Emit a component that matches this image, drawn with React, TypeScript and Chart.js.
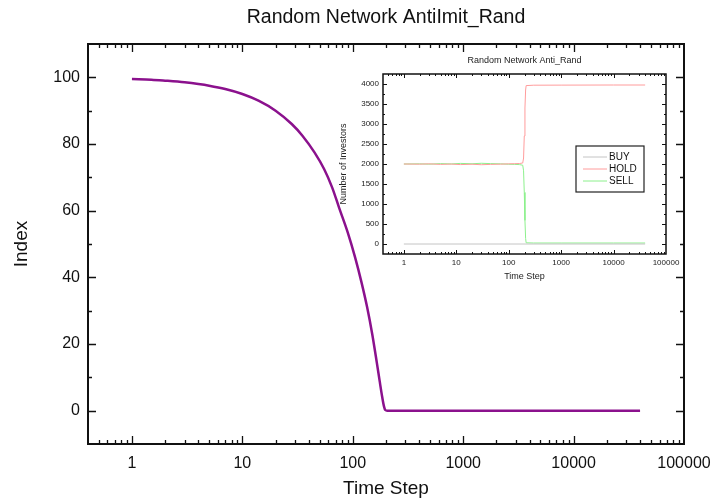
import React, { useEffect, useRef } from 'react';
import { Chart, registerables } from 'chart.js';

Chart.register(...registerables);

const FONT = "'Liberation Sans', Arial, Helvetica, sans-serif";
const INK = '#111111';

// ---------- main chart data ----------
const mainTitle = 'Random Network AntiImit_Rand';
const mainXTitle = 'Time Step';
const mainYTitle = 'Index';
const mainTimes = [1, 1.5, 2, 3, 4, 5, 7, 10, 14, 20, 28, 35, 45, 55, 65, 75, 90, 105, 120, 135, 150, 165, 175, 185, 192, 197, 205, 300, 1000, 10000, 40000];
const mainIndex = [99.5, 99.3, 99.0, 98.5, 98.0, 97.5, 96.5, 95.0, 93.0, 90.0, 86.0, 82.5, 77.5, 72.5, 67.0, 61.0, 53.5, 46.0, 38.5, 31.0, 23.0, 14.5, 9.0, 4.0, 1.2, 0.2, 0, 0, 0, 0, 0];
const mainXTicks = [1, 10, 100, 1000, 10000, 100000];
const mainYTicks = [0, 20, 40, 60, 80, 100];
const mainYMinor = [10, 30, 50, 70, 90];

// ---------- inset chart data ----------
const insetTitle = 'Random Network Anti_Rand';
const insetXTitle = 'Time Step';
const insetYTitle = 'Number of Investors';
const seriesLabels = ['BUY', 'HOLD', 'SELL'];
const buyTimes = [1, 40000];
const buyValues = [0, 0];
const insetTimes = [1, 2, 3, 5, 8, 12, 20, 30, 45, 70, 100, 130, 160, 185, 192, 198, 204, 210, 215, 300, 1000, 10000, 40000];
const holdValues = [2000, 1996, 2004, 1990, 1998, 1985, 1994, 1982, 1990, 1996, 2004, 2008, 2012, 2025, 2150, 2700, 3400, 3850, 3960, 3970, 3972, 3975, 3975];
const sellValues = [2000, 2004, 1996, 2010, 2002, 2015, 2006, 2018, 2010, 2004, 1994, 1990, 1985, 1970, 1830, 1290, 590, 140, 30, 25, 25, 25, 25];
const insetXTicks = [1, 10, 100, 1000, 10000, 100000];
const insetYTicks = [0, 500, 1000, 1500, 2000, 2500, 3000, 3500, 4000];
const insetYMinor = [250, 750, 1250, 1750, 2250, 2750, 3250, 3750];

const logMinor = (lo: number, hi: number) => {
  const out: number[] = [];
  for (let d = 0.1; d < hi; d *= 10) {
    for (let k = 2; k <= 9; k++) {
      const v = Math.round(k * d * 1000) / 1000;
      if (v > lo && v < hi) out.push(v);
    }
  }
  return out;
};

const frameTicksPlugin = {
  id: 'frameTicks',
  afterDatasetsDraw(chart: any, _args: any, opts: any) {
    const { ctx, chartArea: a, scales } = chart;
    const xs = scales.x;
    const ys = scales.y;
    ctx.save();
    ctx.strokeStyle = opts.color || '#000';
    ctx.lineWidth = opts.tickWidth || 1;
    ctx.lineCap = 'butt';
    const drawX = (vals: number[], len: number) => {
      vals.forEach((v) => {
        const px = Math.round(xs.getPixelForValue(v)) + 0.5;
        if (px < a.left || px > a.right) return;
        ctx.beginPath();
        ctx.moveTo(px, a.bottom);
        ctx.lineTo(px, a.bottom - len);
        ctx.moveTo(px, a.top);
        ctx.lineTo(px, a.top + len);
        ctx.stroke();
      });
    };
    const drawY = (vals: number[], len: number) => {
      vals.forEach((v) => {
        const py = Math.round(ys.getPixelForValue(v)) + 0.5;
        if (py < a.top || py > a.bottom) return;
        ctx.beginPath();
        ctx.moveTo(a.left, py);
        ctx.lineTo(a.left + len, py);
        ctx.moveTo(a.right, py);
        ctx.lineTo(a.right - len, py);
        ctx.stroke();
      });
    };
    drawX(opts.xMajor, opts.majorLen);
    drawX(opts.xMinor, opts.minorLen);
    drawY(opts.yMajor, opts.majorLen);
    drawY(opts.yMinor, opts.minorLen);
    ctx.lineWidth = opts.frameWidth || 1.5;
    ctx.strokeRect(a.left, a.top, a.right - a.left, a.bottom - a.top);
    ctx.restore();
  },
};

const boxLegendPlugin = {
  id: 'boxLegend',
  afterDatasetsDraw(chart: any, _args: any, opts: any) {
    const { ctx, chartArea: a } = chart;
    const bx = a.left + opts.x;
    const by = a.top + opts.y;
    ctx.save();
    ctx.fillStyle = '#ffffff';
    ctx.fillRect(bx, by, opts.width, opts.height);
    ctx.strokeStyle = '#222';
    ctx.lineWidth = 1.2;
    ctx.strokeRect(bx, by, opts.width, opts.height);
    ctx.font = `${opts.fontSize}px ${FONT}`;
    ctx.textBaseline = 'middle';
    ctx.textAlign = 'left';
    chart.data.datasets.forEach((ds: any, i: number) => {
      const yy = by + opts.firstRow + i * opts.rowHeight;
      ctx.strokeStyle = ds.borderColor;
      ctx.lineWidth = 1;
      ctx.beginPath();
      ctx.moveTo(bx + opts.sampleStart, yy);
      ctx.lineTo(bx + opts.sampleStart + opts.sampleLength, yy);
      ctx.stroke();
      ctx.fillStyle = INK;
      ctx.fillText(ds.label, bx + opts.textStart, yy);
    });
    ctx.restore();
  },
};

const noPad = (s: any) => {
  s.paddingLeft = 0;
  s.paddingRight = 0;
};

export default function App() {
  const mainRef = useRef<HTMLCanvasElement>(null);
  const insetRef = useRef<HTMLCanvasElement>(null);

  useEffect(() => {
    document.body.style.margin = '0';
    Chart.defaults.font.family = FONT;
    Chart.defaults.color = INK;

    const main = new Chart(mainRef.current as HTMLCanvasElement, {
      type: 'line',
      data: {
        datasets: [
          {
            label: mainYTitle,
            data: mainTimes.map((t, i) => ({ x: t, y: mainIndex[i] })),
            borderColor: '#8b118d',
            borderWidth: 2.5,
            pointRadius: 0,
            fill: false,
            cubicInterpolationMode: 'monotone',
          },
        ],
      },
      options: {
        animation: false,
        responsive: false,
        maintainAspectRatio: false,
        layout: { padding: { left: 0, right: 28, top: 0, bottom: 0 } },
        plugins: {
          legend: { display: false },
          tooltip: { enabled: false },
          title: {
            display: true,
            text: mainTitle,
            fullSize: false,
            color: INK,
            font: { size: 19.5, weight: 'normal', family: FONT, lineHeight: 1.2 },
            padding: { top: 6.3, bottom: 14.3 },
          },
          frameTicks: {
            xMajor: mainXTicks,
            xMinor: logMinor(0.4, 100000),
            yMajor: mainYTicks,
            yMinor: mainYMinor,
            majorLen: 8,
            minorLen: 4,
            tickWidth: 1.3,
            frameWidth: 2,
            color: '#111',
          },
        } as any,
        scales: {
          x: {
            type: 'logarithmic',
            min: 0.4,
            max: 100000,
            grid: { display: false, drawTicks: false },
            border: { display: false },
            afterFit: (s: any) => { s.height = 56; noPad(s); },
            afterBuildTicks: (s: any) => { s.ticks = mainXTicks.map((v) => ({ value: v })); },
            ticks: {
              autoSkip: false,
              maxRotation: 0,
              padding: 10,
              color: INK,
              font: { size: 16, family: FONT },
              callback: (v: any) => String(v),
            },
            title: {
              display: true,
              text: mainXTitle,
              color: INK,
              font: { size: 19, family: FONT, lineHeight: 1.2 },
              padding: { top: 0, bottom: 0 },
            },
          },
          y: {
            type: 'linear',
            min: -10,
            max: 110,
            grid: { display: false, drawTicks: false },
            border: { display: false },
            afterFit: (s: any) => { s.width = 88; },
            afterBuildTicks: (s: any) => { s.ticks = mainYTicks.map((v) => ({ value: v })); },
            ticks: {
              autoSkip: false,
              padding: 8,
              color: INK,
              font: { size: 16, family: FONT },
              callback: (v: any) => String(v),
            },
            title: {
              display: true,
              text: mainYTitle,
              color: INK,
              font: { size: 19, family: FONT, lineHeight: 1.2 },
              padding: { top: 10, bottom: 0 },
            },
          },
        },
      } as any,
      plugins: [frameTicksPlugin],
    });

    const colors = ['#c4c4c4', '#ff9c9c', '#8cf08c'];
    const inset = new Chart(insetRef.current as HTMLCanvasElement, {
      type: 'line',
      data: {
        datasets: [
          {
            label: seriesLabels[0],
            data: buyTimes.map((t, i) => ({ x: t, y: buyValues[i] })),
            borderColor: colors[0],
            borderWidth: 1,
            pointRadius: 0,
          },
          {
            label: seriesLabels[1],
            data: insetTimes.map((t, i) => ({ x: t, y: holdValues[i] })),
            borderColor: colors[1],
            borderWidth: 1,
            pointRadius: 0,
          },
          {
            label: seriesLabels[2],
            data: insetTimes.map((t, i) => ({ x: t, y: sellValues[i] })),
            borderColor: colors[2],
            borderWidth: 1,
            pointRadius: 0,
          },
        ],
      },
      options: {
        animation: false,
        responsive: false,
        maintainAspectRatio: false,
        layout: { padding: { left: 0, right: 14, top: 0, bottom: 0 } },
        plugins: {
          legend: { display: false },
          tooltip: { enabled: false },
          title: {
            display: true,
            text: insetTitle,
            fullSize: false,
            color: '#222',
            font: { size: 9, weight: 'normal', family: FONT, lineHeight: 1.2 },
            padding: { top: 5.6, bottom: 7.6 },
          },
          frameTicks: {
            xMajor: insetXTicks,
            xMinor: logMinor(0.4, 100000),
            yMajor: insetYTicks,
            yMinor: insetYMinor,
            majorLen: 4,
            minorLen: 2,
            tickWidth: 1,
            frameWidth: 1.5,
            color: '#111',
          },
          boxLegend: {
            x: 193,
            y: 72,
            width: 68,
            height: 46,
            firstRow: 11,
            rowHeight: 12,
            sampleStart: 7,
            sampleLength: 24,
            textStart: 33,
            fontSize: 10,
          },
        } as any,
        scales: {
          x: {
            type: 'logarithmic',
            min: 0.4,
            max: 100000,
            grid: { display: false, drawTicks: false },
            border: { display: false },
            afterFit: (s: any) => { s.height = 31; noPad(s); },
            afterBuildTicks: (s: any) => { s.ticks = insetXTicks.map((v) => ({ value: v })); },
            ticks: {
              autoSkip: false,
              maxRotation: 0,
              padding: 4,
              color: '#222',
              font: { size: 8, family: FONT },
              callback: (v: any) => String(v),
            },
            title: {
              display: true,
              text: insetXTitle,
              color: '#222',
              font: { size: 9, family: FONT, lineHeight: 1.2 },
              padding: { top: 0, bottom: 3 },
            },
          },
          y: {
            type: 'linear',
            min: -250,
            max: 4250,
            grid: { display: false, drawTicks: false },
            border: { display: false },
            afterFit: (s: any) => { s.width = 53; },
            afterBuildTicks: (s: any) => { s.ticks = insetYTicks.map((v) => ({ value: v })); },
            ticks: {
              autoSkip: false,
              padding: 4,
              color: '#222',
              font: { size: 8, family: FONT },
              callback: (v: any) => String(v),
            },
            title: {
              display: true,
              text: insetYTitle,
              color: '#222',
              font: { size: 9, family: FONT, lineHeight: 1.2 },
              padding: { top: 8.6, bottom: 0 },
            },
          },
        },
      } as any,
      plugins: [frameTicksPlugin, boxLegendPlugin],
    });

    return () => {
      main.destroy();
      inset.destroy();
    };
  }, []);

  return (
    <div style={{ position: 'relative', width: 712, height: 500, background: '#ffffff' }}>
      <canvas
        ref={mainRef}
        width={712}
        height={500}
        style={{ position: 'absolute', left: 0, top: 0, width: 712, height: 500 }}
      />
      <canvas
        ref={insetRef}
        width={350}
        height={235}
        style={{ position: 'absolute', left: 330, top: 50, width: 350, height: 235 }}
      />
    </div>
  );
}
